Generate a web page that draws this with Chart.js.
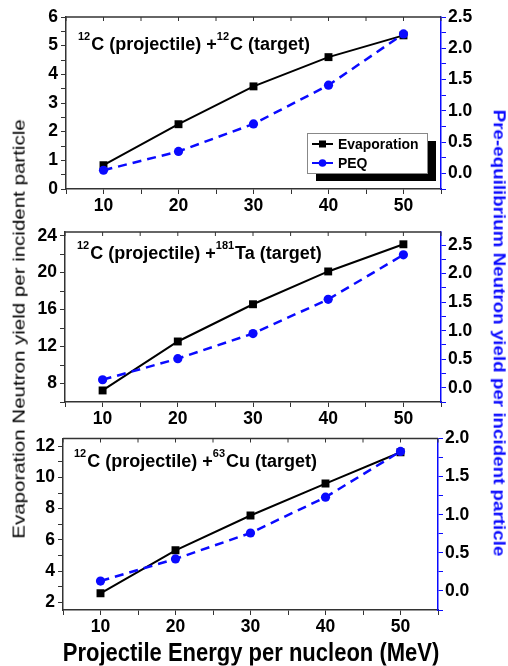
<!DOCTYPE html>
<html><head><meta charset="utf-8">
<script src="https://cdn.jsdelivr.net/npm/chart.js@4/dist/chart.umd.min.js"></script>
<style>
html,body{margin:0;padding:0;background:#fff;width:508px;height:666px;overflow:hidden;}
#wrap{position:relative;width:508px;height:666px;}
canvas{position:absolute;left:0;}
.t{position:absolute;white-space:nowrap;font-family:"Liberation Sans",Arial,sans-serif;line-height:1;}
#yl{left:19px;top:329px;transform:translate(-50%,-50%) rotate(-90deg) scaleY(0.85);font-size:20.5px;color:#000;}
#yr{left:498px;top:333px;transform:translate(-50%,-50%) rotate(90deg) scaleY(0.85);font-size:18.8px;font-weight:bold;color:#0a0aff;}
#xt{left:251px;top:652px;transform:translate(-50%,-50%) scaleX(0.88);font-size:25px;font-weight:bold;color:#000;}
</style></head>
<body><div id="wrap">
<canvas id="c1" width="508" height="215" style="top:0px"></canvas>
<canvas id="c2" width="508" height="210" style="top:215px"></canvas>
<canvas id="c3" width="508" height="241" style="top:425px"></canvas>
<div class="t" id="yl">Evaporation Neutron yield per incident particle</div>
<div class="t" id="yr">Pre-equilibrium Neutron yield per incident particle</div>
<div class="t" id="xt">Projectile Energy per nucleon (MeV)</div>
</div>
<script>
// ---- data ----
const energies = [10, 20, 30, 40, 50];
const seriesNames = ['Evaporation', 'PEQ'];

const evapC12 = [0.83, 2.26, 3.58, 4.60, 5.36];
const peqC12  = [0.05, 0.35, 0.79, 1.41, 2.23];

const evapTa181 = [7.25, 12.55, 16.58, 20.13, 23.07];
const peqTa181  = [0.14, 0.51, 0.95, 1.55, 2.33];

const evapCu63 = [2.57, 5.33, 7.56, 9.61, 11.62];
const peqCu63  = [0.13, 0.42, 0.76, 1.23, 1.83];

// ---- tick labels ----
const xTickLabels = [10, 20, 30, 40, 50];
const xMinorTicks = [5, 15, 25, 35, 45, 55];
const leftTicksC12 = [0, 1, 2, 3, 4, 5, 6];
const leftTicksTa181 = [8, 12, 16, 20, 24];
const leftTicksCu63 = [2, 4, 6, 8, 10, 12];
const rightTicksC12 = [0.0, 0.5, 1.0, 1.5, 2.0, 2.5];
const rightTicksTa181 = [0.0, 0.5, 1.0, 1.5, 2.0, 2.5];
const rightTicksCu63 = [0.0, 0.5, 1.0, 1.5, 2.0];

// ---- panel text ----
const panelLabels = [
  ['12', 'C (projectile) +', '12', 'C (target)'],
  ['12', 'C (projectile) +', '181', 'Ta (target)'],
  ['12', 'C (projectile) +', '63', 'Cu (target)']
];

const FONT = '"Liberation Sans", Arial, sans-serif';
const BLUE = '#0a0aff';
const AXC = '#333';

function withMinors(majors, min, max) {
  const step = majors[1] - majors[0];
  const out = [];
  const first = majors[0] - step * Math.ceil((majors[0] - min) / step + 1);
  for (let v = first; v <= max + 1e-9; v += step / 2) {
    const r = Math.round(v * 1000) / 1000;
    if (r >= min - 1e-9 && r <= max + 1e-9) out.push(r);
  }
  return out;
}

const framePlugin = {
  id: 'frame',
  afterDraw(chart) {
    const ctx = chart.ctx, a = chart.chartArea;
    ctx.save();
    ctx.strokeStyle = AXC; ctx.lineWidth = 1.5;
    ctx.beginPath(); ctx.moveTo(a.left, a.top); ctx.lineTo(a.right, a.top); ctx.stroke();
    const xs = chart.scales.x;
    ctx.lineWidth = 1;
    xs.ticks.forEach(t => {
      const px = xs.getPixelForValue(t.value);
      ctx.beginPath(); ctx.moveTo(px, a.top); ctx.lineTo(px, a.top + 4); ctx.stroke();
    });
    ctx.restore();
  }
};

const annoPlugin = {
  id: 'anno',
  afterDraw(chart, args, opts) {
    if (!opts.parts) return;
    const ctx = chart.ctx, a = chart.chartArea;
    ctx.save();
    ctx.translate(a.left + opts.dx, a.top + opts.dy);
    let x = 0;
    ctx.fillStyle = '#000';
    ctx.textBaseline = 'alphabetic';
    opts.parts.forEach((p, i) => {
      const sup = i % 2 === 0;
      ctx.font = sup ? 'bold 11px ' + FONT : 'bold 18px ' + FONT;
      ctx.fillText(p, x, sup ? -10 : 0);
      x += ctx.measureText(p).width + (sup ? 1 : 0);
    });
    ctx.restore();
  }
};

const legendPlugin = {
  id: 'boxLegend',
  afterDraw(chart, args, opts) {
    if (!opts.show) return;
    const ctx = chart.ctx, a = chart.chartArea;
    const L = a.right - 134, T = a.top + 116, W = 120, H = 40;
    ctx.save();
    ctx.fillStyle = '#000';
    ctx.fillRect(L + 9, T + 8, W, H);
    ctx.fillStyle = '#fff';
    ctx.fillRect(L, T, W, H);
    ctx.strokeStyle = '#888'; ctx.lineWidth = 1;
    ctx.strokeRect(L + 0.5, T + 0.5, W, H);
    const dsets = [chart.data.datasets[1], chart.data.datasets[0]];
    dsets.forEach((ds, i) => {
      const cy = T + 11 + i * 19;
      ctx.strokeStyle = ds.borderColor; ctx.lineWidth = 2; ctx.setLineDash([]);
      ctx.beginPath(); ctx.moveTo(L + 5, cy); ctx.lineTo(L + 26, cy); ctx.stroke();
      ctx.fillStyle = ds.borderColor;
      if (ds.pointStyle === 'rect') ctx.fillRect(L + 15.5 - 3.5, cy - 3.5, 7, 7);
      else { ctx.beginPath(); ctx.arc(L + 15.5, cy, 3.8, 0, Math.PI * 2); ctx.fill(); }
      ctx.save();
      ctx.translate(L + 31, cy + 1);
      ctx.scale(0.9, 1);
      ctx.fillStyle = '#000';
      ctx.font = 'bold 15.5px ' + FONT;
      ctx.textBaseline = 'middle';
      ctx.fillText(ds.label, 0, 0);
      ctx.restore();
    });
    ctx.restore();
  }
};

function makePanel(id, evap, peq, cfg) {
  const yTicks = withMinors(cfg.leftMajors, cfg.yMin, cfg.yMax);
  const y1Ticks = withMinors(cfg.rightMajors, cfg.y1Min, cfg.y1Max);
  const xTicks = xTickLabels.concat(xMinorTicks).sort((a, b) => a - b);
  const tickFont = { family: FONT, size: 17.5, weight: 'bold' };
  new Chart(document.getElementById(id), {
    type: 'line',
    data: {
      labels: energies,
      datasets: [
        { label: seriesNames[1], data: energies.map((e, i) => ({ x: e, y: peq[i] })), yAxisID: 'y1',
          borderColor: BLUE, backgroundColor: BLUE, borderWidth: 2.5, borderDash: [9, 6],
          pointStyle: 'circle', pointRadius: 4.6, pointBorderWidth: 0, order: 1 },
        { label: seriesNames[0], data: energies.map((e, i) => ({ x: e, y: evap[i] })), yAxisID: 'y',
          borderColor: '#000', backgroundColor: '#000', borderWidth: 2,
          pointStyle: 'rect', pointRadius: 5.6, pointBorderWidth: 0, order: 2 }
      ]
    },
    options: {
      responsive: false, animation: false, devicePixelRatio: 1,
      layout: { padding: { top: cfg.padTop, left: 0, right: 0, bottom: 0 } },
      plugins: {
        legend: { display: false }, tooltip: { enabled: false },
        anno: { parts: cfg.label, dx: cfg.annoDx, dy: cfg.annoDy },
        boxLegend: { show: !!cfg.legend }
      },
      scales: {
        x: {
          type: 'linear', min: 5, max: 55,
          afterBuildTicks: s => { s.ticks = xTicks.map(v => ({ value: v })); },
          afterFit: s => { s.height = cfg.xHeight; },
          ticks: { autoSkip: false, maxRotation: 0, padding: 2, color: '#000', font: tickFont,
            callback: v => xTickLabels.includes(v) ? String(v) : '' },
          grid: { drawOnChartArea: false, tickLength: 5, tickColor: AXC, tickWidth: 1 },
          border: { color: AXC, width: 1.5 }
        },
        y: {
          type: 'linear', position: 'left', min: cfg.yMin, max: cfg.yMax,
          afterBuildTicks: s => { s.ticks = yTicks.map(v => ({ value: v })); },
          afterFit: s => { s.width = cfg.left; },
          ticks: { autoSkip: false, padding: 3, color: '#000', font: tickFont,
            callback: v => cfg.leftMajors.includes(v) ? String(v) : '' },
          grid: { drawOnChartArea: false, tickLength: 5, tickColor: AXC, tickWidth: 1 },
          border: { color: AXC, width: 1.5 }
        },
        y1: {
          type: 'linear', position: 'right', min: cfg.y1Min, max: cfg.y1Max,
          afterBuildTicks: s => { s.ticks = y1Ticks.map(v => ({ value: v })); },
          afterFit: s => { s.width = 508 - cfg.right; },
          ticks: { autoSkip: false, padding: 2, color: '#000', font: tickFont,
            callback: v => cfg.rightMajors.some(m => Math.abs(m - v) < 1e-6) ? v.toFixed(1) : '' },
          grid: { drawOnChartArea: false, tickLength: 5, tickColor: BLUE, tickWidth: 1 },
          border: { color: BLUE, width: 1.5 }
        }
      }
    },
    plugins: [framePlugin, annoPlugin, legendPlugin]
  });
}

makePanel('c1', evapC12, peqC12, {
  padTop: 17, xHeight: 26, left: 66, right: 441,
  yMin: 0, yMax: 6, leftMajors: leftTicksC12,
  y1Min: -0.25, y1Max: 2.5, rightMajors: rightTicksC12,
  label: panelLabels[0], annoDx: 12, annoDy: 33, legend: true
});
makePanel('c2', evapTa181, peqTa181, {
  padTop: 17, xHeight: 23, left: 65, right: 441,
  yMin: 6, yMax: 24.4, leftMajors: leftTicksTa181,
  y1Min: -0.25, y1Max: 2.73, rightMajors: rightTicksTa181,
  label: panelLabels[1], annoDx: 12, annoDy: 27
});
makePanel('c3', evapCu63, peqCu63, {
  padTop: 12, xHeight: 56, left: 63, right: 438,
  yMin: 1.5, yMax: 12.5, leftMajors: leftTicksCu63,
  y1Min: -0.25, y1Max: 2.0, rightMajors: rightTicksCu63,
  label: panelLabels[2], annoDx: 11, annoDy: 28
});
</script>
</body></html>
